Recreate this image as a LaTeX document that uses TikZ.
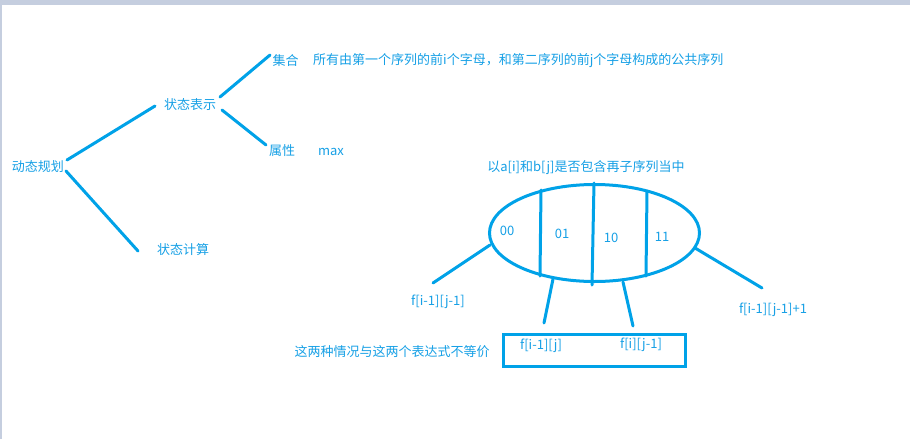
\documentclass[tikz,border=0pt]{standalone}
\usepackage{fontspec}
\setmainfont{Noto Sans CJK SC}
\usetikzlibrary{calc,shapes.geometric}
\definecolor{paintblue}{RGB}{0,162,232}
\definecolor{txtblue}{RGB}{22,160,230}
\definecolor{framegray}{RGB}{197,206,223}
\tikzset{
  lbl/.style={inner sep=0pt, text=txtblue, font=\fontsize{13}{15}\selectfont},
  conn/.style={draw=paintblue, line width=3pt, line cap=round},
}
\begin{document}
\begin{tikzpicture}[x=1pt,y=-1pt]
\useasboundingbox (0,0) rectangle (910,439);
\fill[white] (0,0) rectangle (910,439);
\fill[framegray] (0,0) rectangle (910,5);
\fill[framegray] (0,5) rectangle (2,439);

% tree
\node[lbl] (dp) at (38,167) {动态规划};
\node[lbl] (sb) at (190,105) {状态表示};
\node[lbl] (js) at (183,250) {状态计算};
\node[lbl] (jh) at (285.5,61) {集合};
\node[lbl, anchor=west] (desc) at (313,61) {所有由第一个序列的前i个字母，和第二序列的前j个字母构成的公共序列};
\node[lbl] (sx) at (282,151) {属性};
\node[lbl] (mx) at (331,152) {max};

\draw[conn] ($(dp.center)+(29,-7)$) -- ($(sb.center)+(-35,1)$);
\draw[conn] ($(dp.center)+(28,4)$) -- ($(js.center)+(-45,1)$);
\draw[conn] ($(sb.center)+(30,-8)$) -- ($(jh.center)+(-15.5,-6)$);
\draw[conn] ($(sb.center)+(32,5)$) -- ($(sx.center)+(-16,-6)$);

% ellipse
\node[lbl] (ttl) at (586,168) {以a[i]和b[j]是否包含再子序列当中};
\node[ellipse, draw=paintblue, line width=3pt, minimum width=210pt, minimum height=97pt, inner sep=0pt] (el) at (594.5,233) {};
\draw[conn] ($(el.center)+(-53.5,-43)$) -- ($(el.center)+(-54.5,43)$);
\draw[conn] ($(el.center)+(-0.5,-50)$) -- ($(el.center)+(-2.5,52)$);
\draw[conn] ($(el.center)+(52.5,-42)$) -- ($(el.center)+(51.5,43)$);
\node[lbl] (c00) at (507,231) {00};
\node[lbl] (c01) at (562,234) {01};
\node[lbl] (c10) at (611,238) {10};
\node[lbl] (c11) at (662,237) {11};

% results
\node[lbl] (l1) at (438,302) {f[i-1][j-1]};
\node[lbl] (l4) at (773,310) {f[i-1][j-1]+1};
\node[draw=paintblue, line width=3pt, minimum width=182pt, minimum height=32pt, inner sep=0pt] (box) at (594.5,350.5) {};
\node[lbl] (l2) at (541,346) {f[i-1][j]};
\node[lbl] (l3) at (641,345) {f[i][j-1]};
\node[lbl] (note) at (392,352) {这两种情况与这两个表达式不等价};

\draw[conn] ($(el.center)+(-104.5,12)$) -- ($(l1.center)+(-5,-19)$);
\draw[conn] ($(el.center)+(-41.5,46)$) -- ($(box.north)+(-50.5,-10)$);
\draw[conn] ($(el.center)+(28.5,49)$) -- ($(box.north)+(38.5,-7)$);
\draw[conn] ($(el.center)+(100.5,15)$) -- ($(l4.center)+(-11,-22)$);
\end{tikzpicture}
\end{document}
